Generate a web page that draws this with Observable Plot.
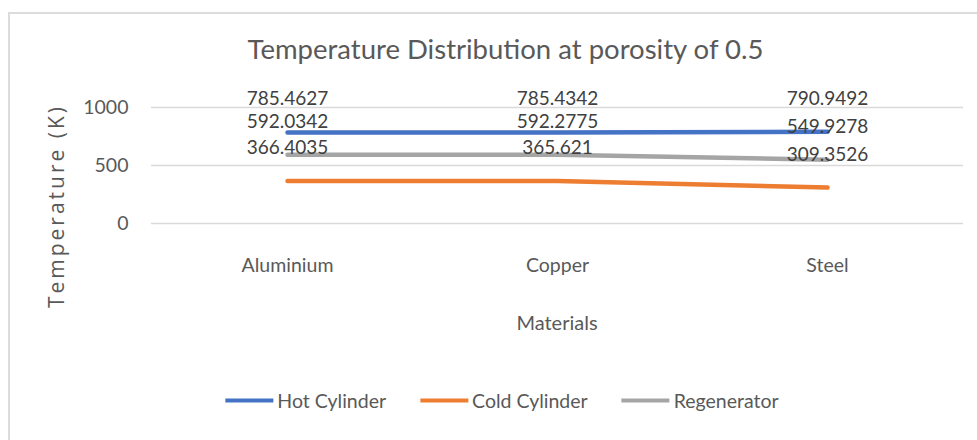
<!DOCTYPE html>
<html>
<head>
<meta charset="utf-8">
<script src="https://cdn.jsdelivr.net/npm/d3@7"></script>
<script src="https://cdn.jsdelivr.net/npm/@observablehq/plot@0.6"></script>
<style>
  html, body { margin: 0; padding: 0; background: #fff; width: 977px; height: 440px; overflow: hidden; }
  #frame { position: absolute; left: 8px; top: 12px; width: 1000px; height: 460px;
           border-left: 2px solid #dcdcdc; border-top: 2px solid #dcdcdc; }
  #title { position: absolute; left: 0; width: 1011px; top: 32px; text-align: center;
           font-family: Lato, sans-serif; font-size: 27.5px; color: #595959; white-space: nowrap; }
  #ytitle { position: absolute; left: 56px; top: 206px; transform: translate(-50%, -50%) rotate(-90deg);
            font-family: "Open Sans", sans-serif; font-size: 21px; letter-spacing: 3px; color: #595959; white-space: nowrap; }
  #xtitle { position: absolute; left: 557px; top: 322px; transform: translate(-50%, -50%);
            font-family: Lato, sans-serif; font-size: 20px; color: #595959; white-space: nowrap; }
  #chart { position: absolute; left: 0; top: 0; }
  #legend { position: absolute; left: 502px; top: 400px; transform: translate(-50%, -50%);
            display: flex; gap: 34px; font-family: Lato, sans-serif; font-size: 19.5px; color: #595959; white-space: nowrap; }
  #legend .item { display: flex; align-items: center; }
  #legend .sw { display: inline-block; width: 48px; height: 4px; margin-right: 4px; }
</style>
</head>
<body>
<div id="frame"></div>
<div id="chart"></div>
<div id="title">Temperature Distribution at porosity of 0.5</div>
<div id="ytitle">Temperature (K)</div>
<div id="xtitle">Materials</div>
<div id="legend"></div>
<script>
const materials = ["Aluminium", "Copper", "Steel"];
const hotCylinder = [785.4627, 785.4342, 790.9492];
const coldCylinder = [366.4035, 365.621, 309.3526];
const regenerator = [592.0342, 592.2775, 549.9278];
const seriesNames = ["Hot Cylinder", "Cold Cylinder", "Regenerator"];
const seriesColors = ["#4472C4", "#ED7D31", "#A5A5A5"];
const yTicks = [0, 500, 1000];

const seriesValues = [hotCylinder, coldCylinder, regenerator];
const data = seriesNames.flatMap((s, i) =>
  materials.map((m, j) => ({series: s, material: m, value: seriesValues[i][j]})));

const chart = Plot.plot({
  width: 977,
  height: 345,
  marginTop: 107,
  marginBottom: 122,
  marginLeft: 151,
  marginRight: 14,
  x: {type: "point", domain: materials, padding: 0.5, label: null},
  y: {domain: [0, 1000], label: null},
  color: {domain: seriesNames, range: seriesColors},
  style: {fontFamily: "Lato, sans-serif", fontSize: "19.5px", color: "#595959", background: "transparent"},
  marks: [
    Plot.gridY(yTicks, {stroke: "#d9d9d9", strokeOpacity: 1, strokeWidth: 1.3}),
    Plot.axisY(yTicks, {tickSize: 0, tickPadding: 23, label: null, fontSize: 19.5, color: "#595959",
                        tickFormat: d => String(d)}),
    Plot.axisX({tickSize: 0, tickPadding: 35, label: null, fontSize: 19.5, color: "#595959"}),
    Plot.line(data, {x: "material", y: "value", z: "series", stroke: "series",
                     strokeWidth: 4.5, strokeLinecap: "round", strokeLinejoin: "round"}),
    Plot.text(data, {x: "material", y: "value", text: d => String(d.value),
                     dy: -27, lineAnchor: "bottom", fill: "#404040", fontSize: 19})
  ]
});
document.getElementById("chart").appendChild(chart);

const legend = document.getElementById("legend");
seriesNames.forEach((s, i) => {
  const item = document.createElement("div");
  item.className = "item";
  const sw = document.createElement("span");
  sw.className = "sw";
  sw.style.background = seriesColors[i];
  const t = document.createElement("span");
  t.textContent = s;
  item.appendChild(sw);
  item.appendChild(t);
  legend.appendChild(item);
});
</script>
</body>
</html>
